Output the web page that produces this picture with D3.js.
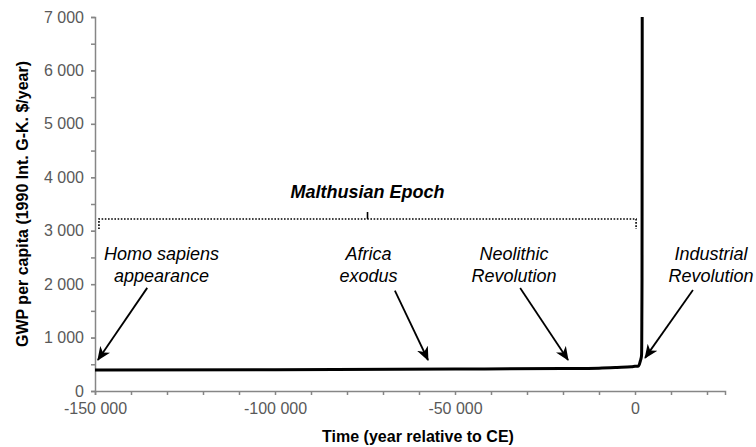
<!DOCTYPE html>
<html lang="en">
<head>
<meta charset="UTF-8">
<title>GWP per capita</title>
<script src="https://d3js.org/d3.v7.min.js"></script>
<style>
  body { margin: 0; background: #fff; font-family: Arial, "Liberation Sans", sans-serif; }
  .tick text { fill: #595959; font-size: 16px; }
  .axis path, .axis line { stroke: #868686; }
  .title { font-weight: bold; font-size: 16px; fill: #000; }
  .note { font-style: italic; font-size: 18px; fill: #000; }
</style>
</head>
<body>
<svg id="chart" width="756" height="447"></svg>
<script>
// series: year relative to CE, GWP per capita
const years = [-150000, -100000, -50000, -20000, -10000, -5000, -1000, 0, 1000, 1500, 1700, 1820, 1870, 1913, 1950, 1973, 2000, 2008];
const gwp   = [395, 400, 410, 420, 428, 440, 452, 462, 468, 566, 615, 667, 873, 1526, 2111, 4091, 6000, 7614];

const xTicks = [-150000, -100000, -50000, 0];
const yTicks = [0, 1000, 2000, 3000, 4000, 5000, 6000, 7000];

// annotations (label lines, label anchor, arrow start, arrow end) in data units
const noteLabels = [["Homo sapiens", "appearance"], ["Africa", "exodus"], ["Neolithic", "Revolution"], ["Industrial", "Revolution"]];
const noteAt     = [[-131500, 2452], [-74000, 2452], [-33600, 2452], [21100, 2452]];
const arrowFrom  = [[-135500, 1930], [-66700, 1880], [-31900, 1930], [16100, 1890]];
const arrowTo    = [[-149200, 580], [-57500, 580], [-18600, 580], [2800, 620]];

const epochLabel = "Malthusian Epoch";
const epochSpan = [-148900, 300];   // bracket ends (years)
const epochLevels = [3030, 3220, 3350, 3610]; // bracket foot, bar, middle tip, label baseline

const fmt = d => d3.format(",")(d).replace(/,/g, " ").replace("−", "-");

const margin = {top: 17, right: 31, bottom: 56, left: 95};
const width = 756, height = 447;
const svg = d3.select("#chart");

const x = d3.scaleLinear().domain([-150000, 25000]).range([margin.left, width - margin.right]);
const y = d3.scaleLinear().domain([0, 7000]).range([height - margin.bottom, margin.top]);

// clip for the data line
svg.append("clipPath").attr("id", "plot")
  .append("rect")
  .attr("x", margin.left).attr("y", margin.top)
  .attr("width", x.range()[1] - margin.left).attr("height", y(0) - margin.top);

// minor ticks
const xAxisMinor = d3.axisBottom(x).tickValues(d3.range(-150000, 25001, 10000)).tickSize(4).tickFormat("");
const yAxisMinor = d3.axisLeft(y).tickValues(d3.range(0, 7001, 500)).tickSize(4).tickFormat("");

svg.append("g").attr("class", "axis").attr("transform", `translate(0,${y(0)})`)
  .call(xAxisMinor)
  .call(g => g.selectAll("path, line").attr("stroke-width", 1.5));
svg.append("g").attr("class", "axis").attr("transform", `translate(${margin.left},0)`)
  .call(yAxisMinor)
  .call(g => g.selectAll("path, line").attr("stroke-width", 1.5));

// labels
svg.append("g").attr("class", "axis").attr("transform", `translate(0,${y(0)})`)
  .call(d3.axisBottom(x).tickValues(xTicks).tickSize(4).tickFormat(fmt).tickPadding(8))
  .call(g => g.select(".domain").remove())
  .call(g => g.selectAll("text").attr("font-family", "Arial, 'Liberation Sans', sans-serif"));
svg.append("g").attr("class", "axis").attr("transform", `translate(${margin.left},0)`)
  .call(d3.axisLeft(y).tickValues(yTicks).tickSize(4).tickFormat(fmt).tickPadding(7))
  .call(g => g.select(".domain").remove())
  .call(g => g.selectAll("text").attr("font-family", "Arial, 'Liberation Sans', sans-serif"));

// data line
const series = years.map((d, i) => [d, gwp[i]]);
svg.append("path")
  .datum(series)
  .attr("clip-path", "url(#plot)")
  .attr("fill", "none")
  .attr("stroke", "#000")
  .attr("stroke-width", 3)
  .attr("stroke-linejoin", "round")
  .attr("d", d3.line().x(d => x(d[0])).y(d => y(d[1])).curve(d3.curveMonotoneX));

// axis titles
svg.append("text").attr("class", "title")
  .attr("x", (margin.left + x.range()[1]) / 2 + 8).attr("y", 442)
  .attr("text-anchor", "middle")
  .text("Time (year relative to CE)");
svg.append("text").attr("class", "title")
  .attr("transform", `translate(28,${(y(0) + y(7000)) / 2}) rotate(-90)`)
  .attr("text-anchor", "middle")
  .text("GWP per capita (1990 Int. G-K. $/year)");

// arrow marker
svg.append("defs").append("marker")
  .attr("id", "head")
  .attr("viewBox", "0 0 14 12")
  .attr("refX", 13).attr("refY", 6)
  .attr("markerWidth", 14).attr("markerHeight", 12)
  .attr("markerUnits", "userSpaceOnUse")
  .attr("orient", "auto")
  .append("path").attr("d", "M0,0 L14,6 L0,12 L4,6 Z").attr("fill", "#000");

// annotations
noteLabels.forEach((lines, i) => {
  const t = svg.append("text").attr("class", "note")
    .attr("x", x(noteAt[i][0])).attr("y", y(noteAt[i][1]))
    .attr("text-anchor", "middle");
  lines.forEach((s, j) => t.append("tspan").attr("x", x(noteAt[i][0])).attr("dy", j ? 22 : 0).text(s));
  svg.append("line")
    .attr("x1", x(arrowFrom[i][0])).attr("y1", y(arrowFrom[i][1]))
    .attr("x2", x(arrowTo[i][0])).attr("y2", y(arrowTo[i][1]))
    .attr("stroke", "#000").attr("stroke-width", 1.8)
    .attr("marker-end", "url(#head)");
});

// Malthusian bracket
const mid = (epochSpan[0] + epochSpan[1]) / 2;
svg.append("path")
  .attr("fill", "none").attr("stroke", "#000").attr("stroke-width", 1.6)
  .attr("stroke-dasharray", "1.6,1.6")
  .attr("d", d3.line()([
    [x(epochSpan[0]), y(epochLevels[0])], [x(epochSpan[0]), y(epochLevels[1])],
    [x(epochSpan[1]), y(epochLevels[1])], [x(epochSpan[1]), y(epochLevels[0])]
  ]));
svg.append("line")
  .attr("x1", x(mid)).attr("x2", x(mid))
  .attr("y1", y(epochLevels[1])).attr("y2", y(epochLevels[2]))
  .attr("stroke", "#000").attr("stroke-width", 1.6);
svg.append("text").attr("class", "note")
  .attr("font-weight", "bold")
  .attr("x", x(mid)).attr("y", y(epochLevels[3]))
  .attr("text-anchor", "middle")
  .text(epochLabel);
</script>
</body>
</html>
